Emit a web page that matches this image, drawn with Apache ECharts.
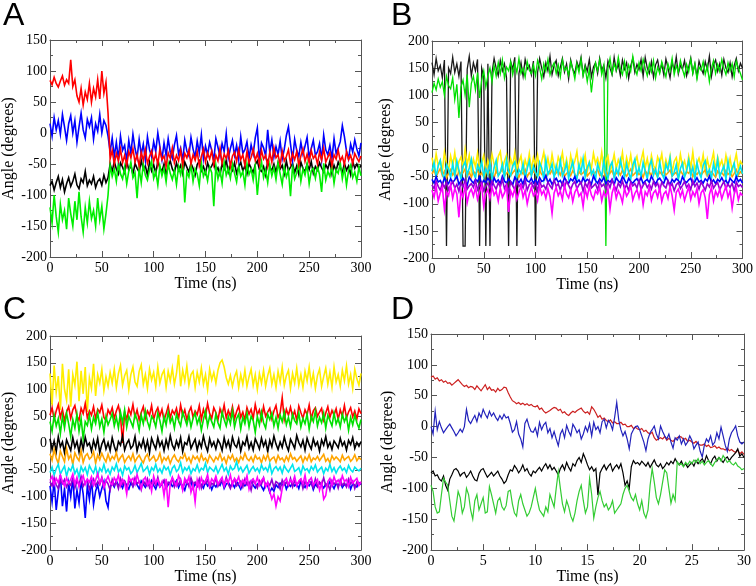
<!DOCTYPE html>
<html><head><meta charset="utf-8">
<script src="https://cdn.jsdelivr.net/npm/echarts@6/dist/echarts.min.js"></script>
<style>html,body{margin:0;padding:0;background:#fff}#c{width:756px;height:586px}</style>
</head><body><div id="c"></div>
<script>
// sampling step (ns)
const stepABC = 2;
const stepD = 0.2;

// ---------- Panel A ----------
const aRed = [85,78,90,80,74,84,92,77,86,80,
118,75,86,60,50,72,45,66,54,80,
50,72,58,86,55,100,64,82,32,
-42,-28,-50,-33,-45,-26,-48,-36,-52,-30,
-40,-25,-47,-35,-53,-31,-44,-27,-49,-38,
-29,-46,-34,-51,-26,-43,-37,-54,-32,-41,
-24,-48,-36,-45,-28,-52,-33,-40,-27,-50,
-35,-44,-30,-53,-38,-26,-47,-32,-42,-29,
-51,-36,-45,-25,-49,-34,-41,-28,-54,-37,
-31,-46,-27,-43,-35,-52,-30,-48,-39,-26,
-44,-33,-50,-28,-42,-36,-53,-31,-47,-24,
-40,-35,-51,-29,-45,-38,-27,-49,-33,-43,
-30,-52,-37,-26,-46,-34,-48,-28,-41,-36,
-50,-31,-44,-25,-47,-39,-32,-53,-35,-42,
-28,-45,-38,-51,-30,-43,-36,-49,-33,-40,
-46,-37];
const aBlue = [15,-5,25,5,20,-2,30,10,-12,15,
28,0,20,-15,10,32,5,-8,22,10,
25,-10,15,3,30,0,20,12,-5,
-30,-8,-38,-15,-42,-5,-28,-20,-45,-12,
-33,-2,-25,-40,-10,-35,-18,-44,-6,-27,
-38,-14,-30,0,-22,-43,-16,-36,-9,-31,
-41,-19,-4,-34,-24,-45,-11,-29,-37,-7,
-26,-39,-13,-32,-3,-42,-21,-35,-15,-28,
-44,-9,-23,-38,-17,-30,-1,-40,-25,-12,
-36,-20,-43,-6,-33,-27,-14,-41,-19,-34,
-8,8,-45,-16,-24,-37,5,-31,-11,-39,
-22,-35,-13,-42,-26,-4,10,-18,-44,-10,
-28,-38,-15,-34,-21,-7,-40,-25,-12,-36,
-30,-17,-43,-3,-27,-35,-20,-41,-9,-33,
-24,-14,12,-6,-29,-42,-18,-31,-11,-26,
-37,-16];
const aBlack = [-85,-78,-92,-80,-70,-88,-75,-95,-82,-72,
-86,-78,-66,-84,-90,-74,-80,-62,-85,-76,
-82,-70,-88,-78,-74,-84,-68,-80,-72,
-50,-62,-46,-58,-66,-48,-55,-64,-45,-60,
-52,-67,-49,-57,-63,-44,-59,-53,-68,-47,
-61,-51,-65,-46,-56,-62,-50,-67,-54,-45,
-58,-64,-48,-60,-52,-66,-47,-55,-63,-49,
-57,-68,-51,-45,-61,-54,-65,-48,-59,-53,
-46,-62,-56,-67,-50,-58,-44,-63,-52,-60,
-48,-65,-55,-47,-61,-53,-66,-49,-57,-64,
-51,-45,-59,-62,-54,-68,-46,-56,-60,-50,
-63,-48,-58,-52,-66,-45,-61,-55,-49,-64,
-53,-67,-47,-57,-62,-50,-59,-46,-65,-54,
-60,-48,-56,-63,-51,-58,-45,-66,-52,-61,
-47,-55,-64,-49,-60,-53,-67,-46,-57,-50,
-58,-52];
const aGreen = [-120,-145,-100,-135,-160,-115,-140,-125,-155,-105,
-130,-150,-110,-140,-95,-135,-160,-120,-145,-110,
-138,-125,-150,-105,-140,-118,-155,-130,-100,
-52,-70,-58,-78,-48,-66,-74,-55,-82,-61,
-47,-72,-64,-105,-56,-80,-50,-68,-76,-59,
-45,-73,-62,-84,-53,-69,-57,-79,-49,-65,
-75,-60,-83,-54,-67,-46,-112,-63,-71,-51,
-78,-58,-66,-85,-48,-70,-61,-77,-55,-64,
-118,-52,-74,-60,-81,-47,-68,-57,-73,-50,
-65,-79,-54,-70,-62,-84,-49,-67,-58,-76,
-53,-100,-63,-46,-72,-59,-80,-51,-69,-56,
-75,-48,-66,-83,-55,-71,-60,-102,-52,-74,
-64,-47,-78,-58,-68,-50,-82,-61,-57,-73,
-54,-67,-95,-49,-76,-62,-70,-53,-81,-59,
-65,-48,-74,-56,-84,-60,-52,-72,-63,-78,
-55,-69];

// ---------- Panel B ----------
const bBlack = [160,138,168,145,155,132,165,-178,150,140,
170,142,158,135,162,-178,-178,148,172,136,
160,145,166,-178,150,134,-178,158,-178,142,
168,150,136,164,145,158,132,-178,162,148,
170,-178,140,160,135,166,148,155,138,163,
-178,142,168,150,134,160,145,172,138,155,
164,136,152,168,143,158,130,165,148,140,
162,150,170,137,156,144,166,134,152,160,
140,168,146,155,132,163,150,138,170,145,
158,136,165,148,160,131,154,168,142,157,
147,166,135,170,150,140,162,133,156,165,
143,158,137,167,150,132,161,146,171,139,
155,148,164,136,152,169,141,158,134,163,
150,140,162,147,172,135,156,165,144,158,
137,166,150,142,160,134,155,168,145,159,
150];
const bGreen = [105,122,110,130,115,125,100,135,118,112,
132,92,120,58,115,128,100,138,78,122,
135,110,142,95,128,145,115,136,150,125,
155,135,160,140,165,132,152,145,162,138,
158,142,168,140,150,133,162,146,140,156,
136,164,150,130,158,144,166,138,152,160,
140,156,134,165,146,152,137,162,148,130,
158,142,166,136,152,125,148,105,140,160,
145,165,138,155,-178,150,168,140,158,146,
170,148,138,162,135,156,144,172,150,138,
160,145,166,150,136,158,143,164,132,152,
140,162,148,134,158,145,168,138,155,142,
164,148,135,157,143,166,140,158,130,152,
146,162,138,155,125,150,164,140,157,144,
166,150,138,160,145,158,134,163,150,140,
128];
const bYellow = [-15,-35,-8,-30,-20,-40,-5,-26,-38,-12,
-30,-6,-37,-22,-14,-34,0,-28,-10,-40,
-18,-32,-7,-36,-24,-11,-42,-20,-33,-9,
-27,-39,-13,-4,-35,-21,-10,-41,-17,-31,
-6,-36,-23,-12,-40,-19,-33,-8,-38,-15,
-29,-11,-42,-22,-5,-34,-16,-37,-9,-30,
-39,-14,-25,-6,-36,-18,-42,-11,-32,-21,
-4,-38,-17,-29,-10,-41,-23,-35,-7,-26,
-16,-33,-5,-37,-20,-12,-42,-28,-9,-35,
-19,-30,-6,-39,-15,-32,-10,-38,-24,-13,
-36,-20,-4,-34,-17,-40,-11,-29,-37,-14,
-25,-8,-38,-19,-33,-12,-42,-22,-15,-35,
-9,-31,-21,-39,-13,-34,-5,-37,-26,-16,
-32,-10,-40,-18,-36,-23,-6,-38,-14,-30,
-20,-37,-11,-33,-16,-40,-25,-8,-35,-22,
-28];
const bOrange = [-45,-38,-50,-42,-35,-48,-40,-52,-44,-37,
-47,-41,-53,-39,-46,-43,-36,-49,-42,-51,
-40,-45,-38,-48,-43,-50,-37,-46,-41,-44,
-52,-39,-47,-42,-36,-49,-44,-40,-48,-43,
-38,-46,-51,-41,-45,-37,-50,-43,-47,-40,
-44,-49,-39,-46,-42,-53,-41,-45,-38,-48,
-43,-40,-47,-36,-50,-44,-42,-48,-39,-45,
-51,-41,-46,-43,-38,-49,-44,-40,-47,-42,
-37,-48,-45,-52,-40,-46,-43,-39,-50,-44,
-41,-47,-38,-45,-49,-42,-36,-48,-44,-40,
-46,-43,-51,-39,-45,-42,-48,-37,-44,-50,
-41,-46,-40,-47,-43,-38,-49,-45,-42,-52,
-39,-45,-48,-41,-44,-37,-50,-43,-46,-40,
-47,-42,-38,-49,-44,-41,-46,-51,-40,-45,
-43,-48,-39,-46,-42,-50,-44,-37,-47,-41,
-45];
const bCyan = [-40,-24,-50,-30,-20,-45,-55,-28,-36,-52,
-26,-48,-21,-38,-54,-31,-23,-47,-34,-18,
-43,-53,-29,-39,-22,-50,-35,-46,-25,-55,
-33,-20,-49,-42,-27,-52,-19,-40,-48,-30,
-23,-51,-37,-44,-26,-54,-35,-21,-49,-31,
-42,-50,-24,-34,-55,-19,-46,-38,-27,-52,
-30,-45,-20,-49,-40,-25,-53,-36,-22,-47,
-54,-28,-42,-17,-51,-33,-24,-46,-38,-56,
-27,-39,-50,-21,-44,-53,-31,-23,-52,-35,
-46,-19,-37,-51,-26,-42,-55,-29,-18,-48,
-33,-50,-24,-40,-54,-30,-20,-47,-36,-52,
-23,-44,-53,-27,-38,-16,-49,-42,-28,-55,
-35,-25,-51,-39,-20,-48,-32,-54,-24,-43,
-52,-29,-21,-46,-37,-53,-26,-44,-18,-50,
-40,-30,-55,-22,-47,-35,-25,-52,-42,-31,
-45];
const bBlue = [-55,-62,-50,-60,-57,-65,-52,-59,-63,-54,
-61,-56,-49,-64,-58,-53,-60,-66,-51,-57,
-62,-55,-59,-50,-64,-57,-61,-53,-58,-66,
-52,-60,-56,-63,-49,-58,-62,-54,-59,-65,
-51,-57,-61,-55,-64,-50,-58,-60,-53,-62,
-56,-63,-52,-59,-57,-48,-61,-55,-64,-58,
-53,-60,-57,-65,-51,-59,-62,-54,-58,-50,
-61,-56,-63,-52,-60,-55,-58,-64,-49,-57,
-62,-54,-59,-51,-63,-57,-60,-55,-65,-52,
-58,-61,-50,-56,-64,-53,-59,-62,-57,-54,
-60,-52,-63,-58,-55,-61,-49,-57,-64,-56,
-53,-59,-62,-51,-58,-65,-55,-60,-54,-57,
-63,-50,-58,-61,-56,-53,-64,-59,-52,-60,
-57,-62,-54,-58,-49,-61,-56,-63,-55,-59,
-52,-60,-57,-64,-53,-58,-61,-50,-59,-55,
-62];
const bViolet = [-65,-72,-58,-68,-75,-62,-70,-60,-74,-66,
-59,-71,-64,-77,-61,-69,-56,-73,-67,-63,
-70,-57,-74,-65,-60,-76,-68,-62,-71,-58,
-66,-73,-61,-69,-55,-72,-64,-78,-60,-67,
-74,-59,-68,-63,-71,-57,-75,-65,-61,-70,
-62,-76,-58,-69,-66,-73,-60,-67,-72,-56,
-68,-63,-75,-61,-70,-58,-66,-74,-64,-59,
-72,-65,-60,-77,-62,-69,-57,-71,-67,-63,
-74,-59,-68,-64,-73,-61,-70,-56,-66,-75,
-62,-69,-58,-72,-65,-76,-60,-67,-63,-71,
-57,-74,-66,-61,-70,-64,-73,-59,-68,-62,
-75,-60,-67,-71,-58,-69,-63,-76,-65,-61,
-72,-66,-59,-70,-64,-74,-57,-68,-62,-73,
-60,-67,-75,-63,-69,-58,-71,-65,-61,-74,
-66,-59,-72,-64,-70,-62,-77,-60,-68,-65,
-70];
const bMagenta = [-75,-88,-68,-95,-80,-70,-110,-78,-85,-65,
-90,-72,-82,-125,-76,-88,-68,-98,-80,-73,
-86,-70,-92,-78,-66,-105,-82,-74,-90,-69,
-84,-77,-95,-71,-88,-80,-68,-115,-76,-86,
-72,-92,-79,-67,-88,-75,-100,-82,-70,-85,
-78,-94,-68,-83,-76,-90,-72,-87,-118,-80,
-70,-85,-77,-92,-66,-82,-89,-74,-96,-79,
-71,-86,-80,-105,-73,-88,-68,-84,-92,-76,
-82,-70,-95,-78,-87,-72,-110,-80,-68,-90,
-76,-84,-98,-71,-86,-79,-67,-93,-81,-74,
-89,-72,-102,-78,-85,-69,-94,-80,-75,-88,
-70,-96,-82,-77,-90,-68,-85,-112,-79,-73,
-87,-75,-94,-81,-69,-92,-78,-86,-72,-100,
-80,-74,-89,-128,-83,-70,-95,-77,-86,-73,
-91,-79,-68,-88,-76,-108,-82,-71,-93,-80,
-85];

// ---------- Panel C ----------
const cYellow = [130,70,145,95,125,62,148,100,80,138,
68,128,108,152,78,135,92,142,58,122,
102,148,88,128,112,138,98,124,106,132,
112,138,104,130,145,108,126,136,100,128,
142,114,106,134,146,110,128,102,138,118,
132,106,142,112,128,136,104,134,116,140,
110,130,165,106,136,116,144,108,128,134,
104,132,114,140,110,128,100,138,118,132,
112,136,150,155,142,122,110,126,106,124,
134,104,128,110,136,106,124,138,108,128,
100,130,112,136,106,126,140,110,128,104,
134,114,142,108,126,136,102,130,112,140,
108,128,104,134,116,142,110,130,102,126,
138,106,124,140,110,132,104,142,114,128,
106,136,116,144,110,128,102,138,120,108,
130];
const cRed = [52,66,44,60,72,48,63,42,58,68,
46,62,70,50,43,65,55,74,47,60,
52,68,45,63,57,71,48,42,62,54,
66,46,60,70,50,0,58,44,64,53,
72,48,62,43,57,68,46,60,52,70,
44,58,66,50,63,42,55,69,47,61,
54,65,45,71,51,62,43,58,67,48,
60,53,70,44,63,49,74,55,46,66,
57,43,64,52,71,47,61,50,68,45,
59,69,48,58,43,66,54,63,46,72,
53,62,44,68,50,58,65,45,60,70,
48,56,85,44,63,52,67,49,60,42,
69,57,46,62,53,71,45,60,66,50,
58,65,43,56,68,48,61,52,64,44,
62,50,70,47,58,66,49,60,45,64,
55];
const cGreen = [40,22,52,32,46,18,50,28,56,36,
12,44,28,54,22,46,8,40,33,52,
26,48,36,57,30,45,20,50,34,44,
55,32,48,28,58,38,62,30,50,40,
30,54,44,24,52,36,60,40,28,50,
44,30,56,42,22,50,34,58,38,48,
28,54,42,32,58,46,34,52,30,46,
56,36,48,24,44,60,32,50,40,30,
54,38,28,58,44,32,50,36,60,30,
46,54,26,48,36,56,30,50,42,20,
50,34,58,38,28,54,44,56,32,48,
28,52,40,58,34,48,30,54,42,36,
56,30,46,36,54,26,50,40,60,32,
48,38,56,28,52,42,32,56,36,46,
30,54,40,50,24,48,34,52,38,28,
44];
const cBlack = [8,-12,4,-16,12,-7,2,-18,6,-4,
-14,10,-8,3,-17,6,-12,11,-5,0,
-15,5,-9,9,-18,-2,7,-11,1,-14,
10,-6,-17,3,-4,13,-13,-1,6,-10,
-5,12,-15,1,-8,7,-12,4,-18,9,
-2,-11,10,-6,3,-14,6,-8,14,-4,
-12,4,-7,10,-16,1,-3,12,-10,-1,
7,-13,3,-8,13,-4,-15,8,-6,2,
-11,6,-1,-14,10,-7,4,-12,11,-3,
-8,7,-15,2,-4,12,-10,1,-13,8,
-1,-11,9,-6,4,-16,5,-7,13,-2,
-12,2,-8,11,-4,-14,7,-1,-10,14,
1,-7,5,-13,9,-3,-11,8,-5,2,
-15,6,-4,12,-8,1,-12,4,-2,-9,
9,-5,2,-13,5,-3,10,-10,1,-6,
3];
const cOrange = [-20,-32,-12,-28,-38,-15,-25,-35,-10,-30,
-22,-40,-18,-27,-33,-14,-36,-24,-20,-30,
-26,-16,-38,-22,-31,-19,-28,-35,-21,-33,
-25,-30,-18,-34,-27,-22,-36,-29,-24,-32,
-20,-35,-28,-23,-31,-37,-26,-21,-33,-29,
-24,-34,-30,-19,-36,-27,-32,-25,-38,-28,
-22,-31,-35,-26,-29,-20,-33,-27,-37,-24,
-30,-25,-34,-21,-32,-28,-36,-23,-29,-35,
-26,-31,-20,-33,-27,-38,-24,-30,-22,-34,
-28,-36,-25,-31,-19,-29,-33,-26,-35,-23,
-30,-27,-37,-24,-32,-21,-34,-29,-26,-36,
-23,-31,-28,-35,-25,-33,-20,-30,-27,-34,
-29,-24,-36,-26,-32,-22,-35,-28,-31,-25,
-33,-27,-21,-34,-29,-37,-24,-31,-26,-30,
-35,-23,-32,-28,-25,-34,-30,-22,-33,-27,
-31];
const cCyan = [-55,-45,-60,-48,-40,-58,-50,-43,-62,-47,
-52,-41,-57,-49,-63,-44,-53,-46,-59,-42,
-50,-56,-44,-61,-47,-53,-40,-55,-49,-58,
-45,-51,-39,-54,-48,-60,-43,-50,-46,-57,
-52,-42,-55,-47,-38,-53,-49,-44,-58,-46,
-51,-40,-54,-48,-56,-43,-50,-45,-59,-47,
-42,-53,-49,-37,-55,-46,-51,-44,-57,-48,
-52,-41,-54,-47,-50,-38,-55,-45,-49,-53,
-44,-56,-48,-40,-52,-46,-58,-43,-50,-47,
-35,-51,-45,-54,-48,-42,-56,-49,-44,-52,
-47,-55,-41,-50,-46,-53,-39,-57,-48,-44,
-51,-45,-56,-42,-49,-54,-47,-40,-53,-50,
-46,-58,-43,-51,-48,-55,-44,-50,-41,-54,
-49,-45,-57,-47,-52,-40,-53,-46,-56,-48,
-43,-51,-47,-55,-42,-50,-54,-45,-49,-52,
-47];
const cBlue = [-80,-110,-70,-125,-90,-60,-118,-85,-128,-75,
-100,-65,-122,-88,-112,-70,-95,-140,-80,-105,
-68,-115,-90,-78,-100,-85,-72,-108,-120,-82,
-75,-82,-70,-80,-76,-84,-72,-79,-86,-74,
-81,-73,-78,-85,-71,-77,-83,-75,-80,-70,
-79,-86,-74,-82,-76,-72,-84,-78,-73,-81,
-77,-70,-83,-75,-80,-88,-74,-79,-72,-85,
-76,-81,-73,-78,-84,-71,-80,-75,-87,-77,
-82,-74,-79,-70,-85,-77,-73,-81,-76,-83,
-72,-78,-86,-75,-80,-74,-82,-71,-79,-84,
-77,-73,-81,-88,-76,-80,-92,-84,-90,-78,
-83,-75,-79,-72,-86,-77,-81,-74,-80,-76,
-85,-71,-78,-83,-75,-80,-73,-87,-77,-82,
-74,-79,-84,-76,-81,-72,-78,-85,-75,-80,
-73,-83,-77,-80,-71,-86,-76,-79,-82,-74,
-78];
const cViolet = [-72,-80,-65,-78,-85,-70,-76,-68,-82,-74,
-79,-66,-84,-71,-77,-63,-81,-73,-69,-86,
-75,-67,-80,-72,-78,-64,-83,-70,-76,-88,
-68,-79,-73,-85,-66,-77,-71,-82,-74,-69,
-81,-65,-76,-72,-87,-70,-78,-67,-83,-74,
-71,-79,-64,-80,-75,-69,-84,-73,-77,-66,
-82,-72,-78,-68,-86,-74,-70,-81,-65,-77,
-73,-80,-67,-84,-71,-76,-69,-83,-75,-78,
-66,-81,-74,-70,-79,-64,-77,-85,-72,-68,
-80,-75,-71,-82,-67,-78,-73,-88,-69,-76,
-84,-70,-77,-65,-81,-74,-79,-68,-83,-72,
-75,-86,-69,-78,-73,-80,-66,-82,-71,-77,
-74,-68,-85,-72,-79,-70,-76,-83,-67,-81,
-73,-78,-65,-80,-75,-88,-70,-77,-72,-84,
-69,-79,-74,-82,-67,-76,-71,-85,-73,-78,
-75];
const cMagenta = [-70,-62,-78,-66,-74,-60,-72,-80,-65,-75,
-68,-58,-76,-64,-82,-70,-61,-77,-67,-73,
-63,-79,-69,-57,-75,-66,-83,-71,-62,-74,
-78,-65,-72,-60,-80,-68,-74,-95,-63,-71,
-66,-77,-59,-73,-85,-69,-64,-79,-70,-90,
-62,-75,-68,-81,-72,-98,-67,-120,-76,-64,
-73,-80,-61,-70,-88,-66,-74,-63,-92,-78,
-110,-69,-84,-65,-76,-71,-59,-79,-67,-73,
-62,-77,-70,-64,-81,-68,-74,-60,-78,-66,
-72,-63,-80,-69,-75,-61,-86,-71,-67,-76,
-64,-79,-70,-65,-82,-73,-90,-105,-95,-118,
-100,-108,-85,-72,-66,-78,-69,-74,-62,-80,
-71,-67,-76,-60,-83,-70,-65,-78,-73,-68,
-88,-75,-105,-98,-72,-66,-79,-63,-74,-69,
-77,-61,-72,-68,-81,-64,-75,-70,-66,-79,
-72];

// ---------- Panel D ----------
const dRed = [80,82,77,79,74,76,72,74,70,71,
67,70,73,76,72,68,65,67,63,65,
64,60,66,62,58,63,68,60,64,59,
60,56,62,58,60,64,63,55,48,42,
40,37,39,36,38,35,37,34,36,33,
32,34,28,30,25,22,24,26,29,31,
30,26,28,22,24,20,18,22,25,23,
26,28,30,25,22,24,20,32,28,22,
15,18,12,14,10,8,11,6,8,5,
5,7,3,4,0,0,2,-3,-1,-4,
-5,-3,-8,-6,-10,-12,-9,-18,-22,-20,
-18,-20,-16,-22,-19,-22,-24,-20,-18,-16,
-17,-21,-19,-24,-22,-25,-27,-24,-28,-30,
-30,-28,-32,-30,-34,-33,-31,-35,-33,-36,
-36,-38,-35,-39,-37,-40,-42,-38,-44,-41,
-45];
const dBlue = [0,-12,25,-5,8,-2,-10,-5,0,4,
-2,-8,-15,-10,-4,-9,0,28,10,5,
12,18,8,22,15,28,20,14,25,17,
22,15,10,18,12,20,14,16,5,-9,
-5,8,-12,-20,-33,5,12,0,-8,-9,
-2,-15,7,-5,3,7,-10,-3,-18,-8,
-20,-31,-12,-5,-18,2,-8,-15,4,-2,
-10,-5,-20,-12,0,-8,5,-15,7,-5,
0,-10,8,12,-2,10,5,-5,15,39,
10,-5,-15,-8,-20,-36,-12,-5,0,1,
-5,-15,-25,-39,-20,-10,-5,1,-12,-20,
1,-8,-15,-20,-12,-25,-35,-18,-22,-15,
-28,-20,-30,-25,-15,-22,-36,-30,-25,-40,
-49,-30,-20,-25,-15,-30,-25,-10,-20,-1,
-15,-30,-40,-20,-10,-5,1,-15,-25,-28,
-25];
const dBlack = [-75,-72,-80,-78,-85,-88,-80,-95,-103,-85,
-78,-70,-68,-72,-80,-76,-74,-82,-78,-72,
-80,-86,-88,-76,-70,-68,-75,-82,-78,-74,
-80,-76,-72,-80,-85,-92,-88,-78,-70,-72,
-63,-68,-75,-70,-62,-72,-68,-76,-80,-72,
-75,-70,-66,-72,-65,-60,-68,-62,-70,-66,
-72,-78,-68,-62,-70,-58,-66,-72,-60,-64,
-55,-50,-58,-44,-52,-62,-70,-65,-72,-68,
-111,-75,-68,-62,-70,-64,-60,-72,-66,-62,
-68,-60,-75,-95,-88,-100,-65,-55,-60,-58,
-62,-56,-60,-64,-58,-66,-60,-54,-62,-65,
-60,-68,-64,-58,-62,-56,-60,-52,-58,-62,
-56,-64,-60,-66,-62,-58,-64,-55,-60,-56,
-52,-58,-47,-55,-60,-52,-48,-56,-50,-54,
-58,-52,-49,-55,-50,-46,-42,-36,-48,-44,
-50];
const dGreen = [-95,-105,-130,-140,-138,-110,-84,-90,-95,-120,
-145,-153,-130,-105,-115,-140,-130,-100,-110,-135,
-150,-120,-110,-135,-125,-115,-140,-138,-97,-110,
-125,-140,-120,-115,-130,-135,-128,-105,-103,-125,
-140,-145,-120,-110,-125,-135,-145,-140,-130,-115,
-100,-120,-135,-140,-145,-130,-138,-110,-120,-130,
-100,-73,-100,-125,-138,-120,-130,-145,-153,-140,
-120,-105,-95,-120,-140,-130,-84,-110,-148,-130,
-115,-105,-120,-130,-125,-135,-130,-120,-140,-135,
-130,-125,-110,-100,-95,-105,-115,-120,-110,-125,
-135,-120,-140,-148,-135,-95,-68,-90,-115,-125,
-110,-90,-70,-75,-100,-124,-110,-120,-57,-62,
-60,-65,-58,-62,-56,-60,-54,-58,-52,-60,
-56,-62,-58,-55,-60,-64,-58,-54,-50,-56,
-47,-52,-58,-55,-60,-62,-58,-64,-66,-70,
-68];

// axis tick settings
const xMaxes = [300, 300, 300, 30];
const xIntervals = [50, 50, 50, 5];
const yMins = [-200, -200, -200, -200];
const yMaxes = [150, 200, 200, 150];
const panelLetters = ['A', 'B', 'C', 'D'];

const grids = [
  {left: 49, top: 40, width: 312, height: 217},
  {left: 432, top: 41, width: 312, height: 217},
  {left: 49, top: 336, width: 312, height: 216},
  {left: 431, top: 334, width: 313, height: 218}
];
const yNameGaps = [33, 38, 33, 35];
const letterPos = [[3, 0], [391, 0], [3, 294], [391, 294]];

const frame = '#555';
const serif = 'Liberation Serif, Times New Roman, serif';

function mkX(g, top) {
  return {
    type: 'value', gridIndex: g, position: top ? 'top' : 'bottom',
    min: 0, max: xMaxes[g], interval: xIntervals[g],
    axisLine: {show: true, onZero: false, lineStyle: {color: frame, width: 1}},
    axisTick: {show: true, inside: true, length: 6, lineStyle: {color: frame}},
    minorTick: {show: true, splitNumber: 2, length: 3, lineStyle: {color: frame}},
    splitLine: {show: false},
    axisLabel: top ? {show: false} : {color: '#000', fontFamily: serif, fontSize: 14, margin: 4},
    name: top ? '' : 'Time (ns)', nameLocation: 'middle', nameGap: 16,
    nameTextStyle: {color: '#000', fontFamily: serif, fontSize: 16, verticalAlign: 'top'}
  };
}
function mkY(g, right) {
  return {
    type: 'value', gridIndex: g, position: right ? 'right' : 'left',
    min: yMins[g], max: yMaxes[g], interval: 50,
    axisLine: {show: true, onZero: false, lineStyle: {color: frame, width: 1}},
    axisTick: {show: true, inside: true, length: 6, lineStyle: {color: frame}},
    minorTick: {show: true, splitNumber: 2, length: 3, lineStyle: {color: frame}},
    splitLine: {show: false},
    axisLabel: right ? {show: false} : {color: '#000', fontFamily: serif, fontSize: 14, margin: 3},
    name: right ? '' : 'Angle (degrees)', nameLocation: 'middle', nameGap: yNameGaps[g],
    nameTextStyle: {color: '#000', fontFamily: serif, fontSize: 16}
  };
}

const xAxis = [], yAxis = [];
for (let g = 0; g < 4; g++) {
  xAxis.push(mkX(g, false)); xAxis.push(mkX(g, true));
  yAxis.push(mkY(g, false)); yAxis.push(mkY(g, true));
}

function line(g, vals, step, color, w) {
  return {
    type: 'line', xAxisIndex: 2 * g, yAxisIndex: 2 * g,
    data: vals.map((v, i) => [+(i * step).toFixed(2), v]),
    showSymbol: false, symbol: 'none', sampling: null,
    lineStyle: {color: color, width: w || 1.6, join: 'miter'}, itemStyle: {color: color},
    silent: true, animation: false
  };
}

const series = [
  line(0, aBlack, stepABC, '#000000'),
  line(0, aGreen, stepABC, '#00ee00'),
  line(0, aBlue, stepABC, '#0000ff'),
  line(0, aRed, stepABC, '#ff0000'),

  line(1, bBlack, stepABC, '#1a1a1a', 1.3),
  line(1, bGreen, stepABC, '#00e000', 1.3),
  line(1, bYellow, stepABC, '#ffee00'),
  line(1, bOrange, stepABC, '#ffa500'),
  line(1, bCyan, stepABC, '#00e5ee'),
  line(1, bBlue, stepABC, '#0000ff'),
  line(1, bViolet, stepABC, '#9400d3'),
  line(1, bMagenta, stepABC, '#ff00ff'),

  line(2, cYellow, stepABC, '#ffee00'),
  line(2, cRed, stepABC, '#ff0000'),
  line(2, cGreen, stepABC, '#00e000'),
  line(2, cBlack, stepABC, '#000000'),
  line(2, cOrange, stepABC, '#ffa500'),
  line(2, cCyan, stepABC, '#00e5ee'),
  line(2, cBlue, stepABC, '#0000ff'),
  line(2, cViolet, stepABC, '#9400d3'),
  line(2, cMagenta, stepABC, '#ff00ff'),

  line(3, dRed, stepD, '#cc2020', 1.2),
  line(3, dBlue, stepD, '#2222bb', 1.2),
  line(3, dBlack, stepD, '#000000', 1.2),
  line(3, dGreen, stepD, '#33cc33', 1.2)
];

const chart = echarts.init(document.getElementById('c'), null, {renderer: 'canvas'});
chart.setOption({
  animation: false,
  backgroundColor: '#fff',
  grid: grids,
  xAxis: xAxis,
  yAxis: yAxis,
  series: series,
  graphic: panelLetters.map((t, i) => ({
    type: 'text', left: letterPos[i][0], top: letterPos[i][1],
    style: {text: t, fill: '#000', font: '32px "Liberation Sans", Arial, sans-serif'}
  }))
});
</script>
</body></html>
